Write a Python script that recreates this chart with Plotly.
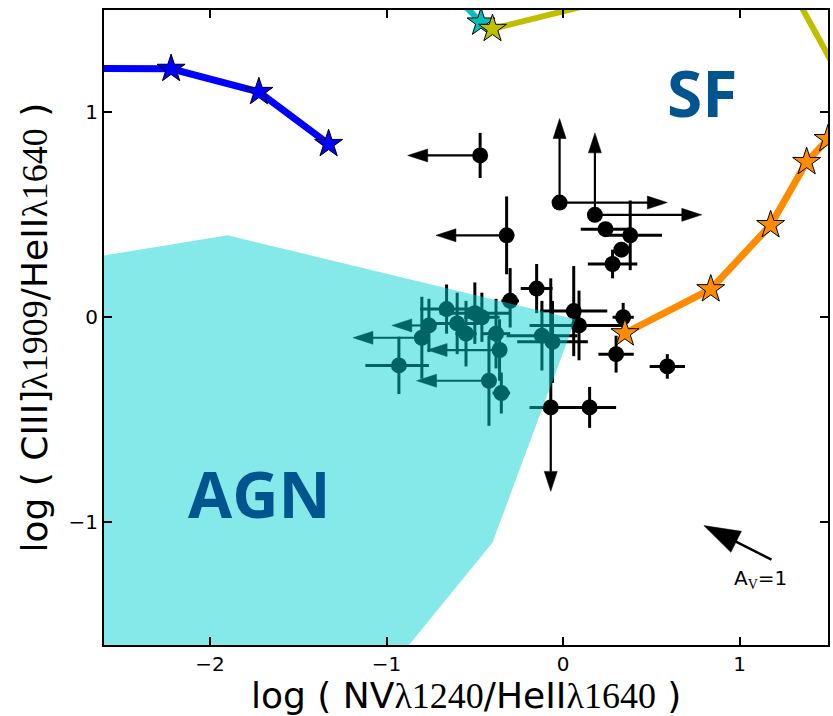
import plotly.graph_objects as go

# ---------------- data ----------------
# observed objects: x, y, error bars (minus/plus) and limit-arrow tips (None = no limit)
obs_x   = [-0.47, -0.02, 0.18, 0.24, 0.38, 0.33, 0.28, -0.32, -0.30, -0.15, 0.06, 0.09, 0.34, 0.30, 0.59, -0.07, 0.15,
           -0.66, -0.76, -0.80, -0.93, -0.60, -0.55, -0.50, -0.46, -0.38, -0.36, -0.42, -0.35, -0.12, -0.06]
obs_y   = [0.79, 0.56, 0.50, 0.43, 0.40, 0.33, 0.26, 0.40, 0.08, 0.14, 0.03, -0.04, 0.00, -0.18, -0.24, -0.44, -0.44,
           0.04, -0.04, -0.10, -0.235, -0.03, -0.08, 0.02, 0.00, -0.08, -0.16, -0.31, -0.37, -0.09, -0.12]
obs_xm  = [0, 0, 0, 0.14, 0.14, 0.03, 0.14, 0, 0.05, 0.09, 0.19, 0.28, 0.06, 0.10, 0.10, 0.12, 0.15,
           0.15, 0, 0, 0.19, 0.12, 0.06, 0.20, 0.10, 0.08, 0, 0, 0.05, 0.20, 0.20]
obs_xp  = [0, 0, 0, 0.14, 0.18, 0.03, 0.14, 0, 0.05, 0.09, 0.19, 0.25, 0.06, 0.10, 0.10, 0.12, 0.15,
           0.15, 0, 0, 0.17, 0.12, 0.06, 0.20, 0.10, 0.08, 0, 0, 0.05, 0.20, 0.20]
obs_ym  = [0.11, 0, 0, 0.03, 0.17, 0.03, 0.07, 0.19, 0.13, 0.12, 0.22, 0.17, 0.07, 0.09, 0.06, 0, 0.10,
           0.12, 0.13, 0.20, 0.14, 0.15, 0.16, 0.15, 0.12, 0.17, 0.15, 0.22, 0.10, 0.17, 0.20]
obs_yp  = [0.11, 0, 0, 0.03, 0.17, 0.03, 0.07, 0.19, 0.16, 0.12, 0.22, 0.17, 0.07, 0.09, 0.06, 0.63, 0.10,
           0.12, 0.13, 0.20, 0.14, 0.15, 0.16, 0.15, 0.12, 0.17, 0.15, 0.22, 0.10, 0.17, 0.20]
obs_xlim = [-0.88, 0.59, 0.785, None, None, None, None, -0.72, None, None, None, None, None, None, None, None, None,
            None, -0.97, -1.19, None, None, None, None, None, None, -0.77, -0.83, None, None, None]
obs_ylim = [None, 0.97, 0.90, None, None, None, None, None, None, None, None, None, None, None, None, -0.85, None,
            None, None, None, None, None, None, None, None, None, None, None, None, None, None]

# AGN region polygon
agn_x = [-2.75, -1.90, 0.07, -0.40, -0.92, -2.75]
agn_y = [0.28, 0.40, -0.01, -1.10, -1.65, -1.65]

# photoionisation model tracks (stars)
blue_x = [-2.90, -2.22, -1.723, -1.328]
blue_y = [1.215, 1.213, 1.10, 0.846]
orange_x = [0.35, 0.836, 1.175, 1.379, 1.50, 1.66]
orange_y = [-0.078, 0.137, 0.45, 0.758, 0.87, 1.08]
yellow_x = [-0.40, 1.20, 1.62]
yellow_y = [1.408, 1.75, 1.09]
cyan_x = [-0.465, -0.60]
cyan_y = [1.439, 1.56]

# dust-vector
av_tail = (1.18, -1.183)
av_tip = (0.797, -1.017)

SERIF = "Liberation Serif"
fig = go.Figure()

# ---------- limit arrows ----------
def arrow(x0, y0, x1, y1, width=2.2, size=21):
    fig.add_trace(go.Scatter(
        x=[x0, x1], y=[y0, y1], mode="lines+markers",
        line=dict(color="#000000", width=width),
        marker=dict(symbol="arrow", size=[0, size], angleref="previous", color="#000000",
                    opacity=1, line=dict(width=0.5, color="#000000")),
        opacity=1, hoverinfo="skip", showlegend=False))

for i in range(len(obs_x)):
    if obs_xlim[i] is not None:
        arrow(obs_x[i], obs_y[i], obs_xlim[i], obs_y[i])
    if obs_ylim[i] is not None:
        arrow(obs_x[i], obs_y[i], obs_x[i], obs_ylim[i])

# ---------- observed points ----------
fig.add_trace(go.Scatter(
    x=obs_x, y=obs_y, mode="markers",
    marker=dict(color="black", size=16, line=dict(width=0)),
    error_x=dict(type="data", symmetric=False, array=obs_xp, arrayminus=obs_xm,
                 color="black", thickness=3, width=0),
    error_y=dict(type="data", symmetric=False, array=obs_yp, arrayminus=obs_ym,
                 color="black", thickness=3, width=0),
    hoverinfo="skip", showlegend=False))

# ---------- AGN region (translucent, on top of points) ----------
fig.add_trace(go.Scatter(
    x=agn_x, y=agn_y, mode="lines", fill="toself",
    fillcolor="rgba(0,206,209,0.48)", line=dict(width=0),
    hoverinfo="skip", showlegend=False))

# ---------- model tracks ----------
def track(xs, ys, col, lw):
    fig.add_trace(go.Scatter(
        x=xs, y=ys, mode="lines+markers",
        line=dict(color=col, width=lw),
        marker=dict(symbol="star", size=21, color=col, line=dict(color="black", width=1)),
        hoverinfo="skip", showlegend=False))

track(cyan_x, cyan_y, "rgb(0,191,191)", 6)
track(yellow_x, yellow_y, "rgb(191,191,0)", 6)
track(blue_x, blue_y, "rgb(0,0,255)", 7)
track(orange_x, orange_y, "rgb(255,140,0)", 7)

# ---------- A_V arrow ----------
arrow(av_tail[0], av_tail[1], av_tip[0], av_tip[1], width=2.5, size=38)

fig.add_annotation(x=1.12, y=-1.28, xref="x", yref="y", showarrow=False,
                   text="A<sub><span style='font-family:%s'>V</span></sub>=1" % SERIF,
                   font=dict(family="DejaVu Sans", size=20, color="black"))

fig.add_annotation(x=0.785, y=1.095, xref="x", yref="y", showarrow=False, text="<b>SF</b>",
                   font=dict(family="Open Sans", size=64, color="#00558F"))
fig.add_annotation(x=-1.72, y=-0.86, xref="x", yref="y", showarrow=False, text="<b>AGN</b>",
                   font=dict(family="Open Sans", size=64, color="#00558F"))

# ---------- axis titles ----------
xt = ("log ( NV<span style='font-family:%s'>λ1240</span>/HeII"
      "<span style='font-family:%s'>λ1640</span> )") % (SERIF, SERIF)
yt = ("log ( CIII]<span style='font-family:%s'>λ1909</span>/HeII"
      "<span style='font-family:%s'>λ1640</span> )") % (SERIF, SERIF)
fig.add_annotation(x=0.5, y=0, xref="paper", yref="paper", yanchor="middle", yshift=-50,
                   showarrow=False, text=xt, font=dict(family="DejaVu Sans", size=36, color="black"))
fig.add_annotation(x=0, y=0.5, xref="paper", yref="paper", xanchor="center", xshift=-70,
                   textangle=-90, showarrow=False, text=yt,
                   font=dict(family="DejaVu Sans", size=36, color="black"))

axis_common = dict(showline=True, linecolor="black", linewidth=2, mirror="ticks",
                   ticks="inside", ticklen=8, tickwidth=2, tickcolor="black",
                   showgrid=False, zeroline=False, automargin=False,
                   tickfont=dict(family="DejaVu Sans", size=20, color="black"))

fig.update_xaxes(range=[-2.6, 1.5], dtick=1, tick0=0, **axis_common)
fig.update_yaxes(range=[-1.6, 1.5], dtick=1, tick0=0, **axis_common)

fig.update_layout(width=833, height=716, margin=dict(l=104, r=5, t=10, b=71),
                  plot_bgcolor="white", paper_bgcolor="white", showlegend=False)

# remove the default page margin so the 833x716 figure fills the window exactly
fig.write_html("out.html", config={"displayModeBar": False},
               post_script="document.body.style.margin='0';document.body.style.overflow='hidden';")
